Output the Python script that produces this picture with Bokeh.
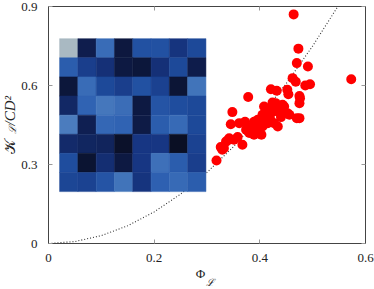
import numpy as np
from bokeh.plotting import figure
from bokeh.models import LinearAxis, FixedTicker, Title, LinearColorMapper, Range1d, ColumnDataSource
from bokeh.transform import transform
from bokeh.embed import file_html
from bokeh.resources import INLINE

# ---- data ----
phi = [0.464, 0.473, 0.470, 0.491, 0.573, 0.462, 0.468, 0.486, 0.495, 0.421,
       0.432, 0.452, 0.454, 0.475, 0.476, 0.475, 0.378, 0.424, 0.446, 0.443,
       0.430, 0.348, 0.456, 0.452, 0.475, 0.470, 0.345, 0.361, 0.372, 0.389,
       0.396, 0.405, 0.415, 0.427, 0.421, 0.411, 0.415, 0.427, 0.434, 0.386,
       0.396, 0.405, 0.389, 0.403, 0.399, 0.342, 0.351, 0.336, 0.326, 0.332,
       0.367, 0.358, 0.318, 0.329, 0.339, 0.380, 0.410, 0.420, 0.400, 0.392,
       0.435, 0.440, 0.383, 0.374, 0.408]
kappa = [0.870, 0.740, 0.685, 0.672, 0.624, 0.628, 0.614, 0.600, 0.605, 0.586,
         0.580, 0.584, 0.567, 0.560, 0.552, 0.533, 0.556, 0.535, 0.520, 0.527,
         0.533, 0.499, 0.489, 0.495, 0.476, 0.476, 0.453, 0.457, 0.462, 0.462,
         0.470, 0.489, 0.508, 0.514, 0.495, 0.482, 0.457, 0.457, 0.444, 0.432,
         0.438, 0.444, 0.413, 0.413, 0.425, 0.400, 0.394, 0.387, 0.366, 0.362,
         0.375, 0.404, 0.315, 0.356, 0.391, 0.420, 0.470, 0.470, 0.450, 0.445,
         0.500, 0.480, 0.440, 0.432, 0.520]

curve_phi = [0.0, 0.05, 0.10, 0.15, 0.20, 0.25, 0.30, 0.35, 0.40, 0.45, 0.50, 0.55]
curve_kappa = [0.0, 0.0075, 0.030, 0.0675, 0.120, 0.1875, 0.270, 0.3675, 0.480, 0.6075, 0.750, 0.9075]

# inset matrix, top row first
grid_vals = [
    [1.00, 0.18, 0.75, 0.12, 0.58, 0.58, 0.38, 0.52],
    [0.66, 0.45, 0.35, 0.13, 0.10, 0.35, 0.52, 0.17],
    [0.10, 0.75, 0.52, 0.45, 0.58, 0.47, 0.08, 0.80],
    [0.28, 0.70, 0.82, 0.76, 0.13, 0.60, 0.55, 0.52],
    [0.85, 0.20, 0.72, 0.70, 0.15, 0.66, 0.74, 0.52],
    [0.30, 0.26, 0.24, 0.03, 0.40, 0.40, 0.00, 0.48],
    [0.55, 0.06, 0.33, 0.13, 0.40, 0.78, 0.66, 0.45],
    [0.50, 0.48, 0.60, 0.80, 0.38, 0.68, 0.74, 0.66],
]

x_ticks = [0, 0.2, 0.4, 0.6]
y_ticks = [0, 0.3, 0.6, 0.9]

# ---- styling ----
INSET_X0, INSET_X1 = 0.021, 0.298
INSET_Y0, INSET_Y1 = 0.197, 0.778

stops_v = [0.0, 0.2, 0.4, 0.55, 0.7, 0.85, 1.0]
stops_c = ["#0a0f24", "#0f1f52", "#173683", "#1f4d9e", "#3063b3", "#4a7cbe", "#a9b9c2"]
rgb = np.array([[int(c[i:i + 2], 16) for i in (1, 3, 5)] for c in stops_c], dtype=float)
tt = np.linspace(0, 1, 256)
palette = ["#%02x%02x%02x" % tuple(int(round(np.interp(t, stops_v, rgb[:, k]))) for k in range(3)) for t in tt]
mapper = LinearColorMapper(palette=palette, low=0, high=1)

p = figure(width=374, height=289, x_range=Range1d(0, 0.6), y_range=Range1d(0, 0.9),
           output_backend="svg", toolbar_location=None,
           min_border_left=48, min_border_right=9, min_border_top=6, min_border_bottom=46)
p.xgrid.visible = False
p.ygrid.visible = False
p.background_fill_color = "white"
p.border_fill_color = "white"
p.outline_line_color = "#444444"
p.outline_line_width = 1

FONT = "Liberation Serif"
for ax, ticks, so in ((p.xaxis[0], x_ticks, 10), (p.yaxis[0], y_ticks, 11)):
    ax.ticker = FixedTicker(ticks=ticks)
    ax.major_tick_in = 4
    ax.major_tick_out = 0
    ax.minor_tick_line_color = None
    ax.major_tick_line_color = "#999999"
    ax.axis_line_color = "#444444"
    ax.major_label_text_font = FONT
    ax.major_label_text_font_size = "13px"
    ax.major_label_text_color = "#222222"
    ax.major_label_standoff = so

# x label: main symbol as axis label, subscript as a title just below it
p.xaxis[0].axis_label = "Φ\u2003"
p.xaxis[0].axis_label_text_font = FONT
p.xaxis[0].axis_label_text_font_size = "13px"
p.xaxis[0].axis_label_text_font_style = "normal"
p.xaxis[0].axis_label_text_color = "#222222"
p.xaxis[0].axis_label_standoff = 1

for loc, ticks in (("above", x_ticks), ("right", y_ticks)):
    ax = LinearAxis(ticker=FixedTicker(ticks=ticks))
    ax.major_tick_in = 4
    ax.major_tick_out = 0
    ax.minor_tick_line_color = None
    ax.major_tick_line_color = "#999999"
    ax.axis_line_color = "#444444"
    ax.major_label_text_font_size = "0px"
    ax.major_label_text_alpha = 0
    ax.major_label_standoff = 0
    p.add_layout(ax, loc)

# fit curve
p.line(curve_phi, curve_kappa, line_color="#333333", line_width=1.1, line_dash="1 2")

# inset matrix as cells
n = len(grid_vals)
cw = (INSET_X1 - INSET_X0) / n
ch = (INSET_Y1 - INSET_Y0) / n
cx, cy, cv = [], [], []
for i, row in enumerate(grid_vals):
    for j, v in enumerate(row):
        cx.append(INSET_X0 + (j + 0.5) * cw)
        cy.append(INSET_Y1 - (i + 0.5) * ch)
        cv.append(v)
src = ColumnDataSource(dict(x=cx, y=cy, v=cv))
p.rect(x="x", y="y", width=cw, height=ch, source=src,
       fill_color=transform("v", mapper), line_color=transform("v", mapper), line_width=0.5)

# scatter
p.scatter(phi, kappa, size=10, fill_color="#ff0000", line_color=None)

# subscript of the x label
p.add_layout(Title(text="ℒ", align="left", offset=157, standoff=-14, vertical_align="top",
                   text_font="DejaVu Serif", text_font_size="10px", text_font_style="italic",
                   text_color="#222222"), "below")

# y label pieces (rotated titles in the left panel)
p.add_layout(Title(text="ℒ", align="left", offset=110, standoff=-3, vertical_align="top",
                   text_font="DejaVu Serif", text_font_size="10px", text_font_style="italic",
                   text_color="#222222"), "left")
p.add_layout(Title(text="𝒦", align="left", offset=90, standoff=-18, vertical_align="bottom",
                   text_font=FONT, text_font_size="15px", text_font_style="normal",
                   text_color="#222222"), "left")
p.add_layout(Title(text="/CD²", align="left", offset=118, standoff=-18, vertical_align="bottom",
                   text_font=FONT, text_font_size="15px", text_font_style="italic",
                   text_color="#222222"), "left")

open("out.html", "w").write(file_html(p, INLINE))
